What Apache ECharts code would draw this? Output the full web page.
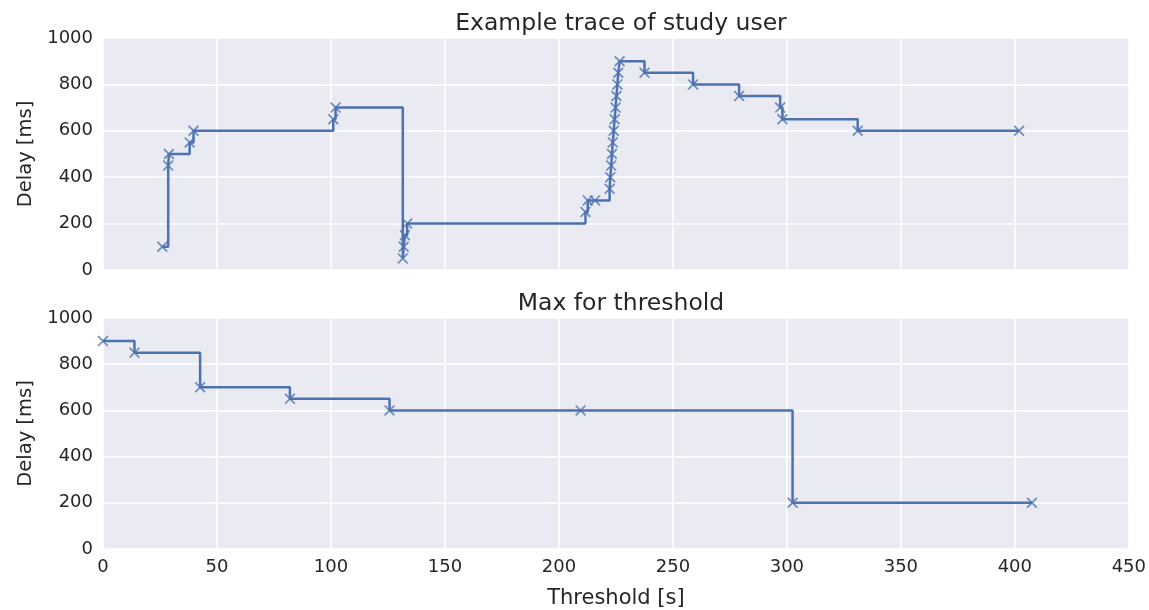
<!DOCTYPE html>
<html>
<head>
<meta charset="utf-8">
<script src="https://cdn.jsdelivr.net/npm/echarts@6/dist/echarts.min.js"></script>
<style>
html,body{margin:0;padding:0;background:#fff;}
#chart{width:1149px;height:610px;}
</style>
</head>
<body>
<div id="chart"></div>
<script>
// Top panel: example trace (threshold s, delay ms)
const traceX = [26, 28.6, 28.9, 38.0, 39.7, 101, 102, 131.5, 131.9, 132.4, 133.4, 211.6, 212.6, 215.8,
  222.2, 222.5, 222.9, 223.2, 223.6, 224.0, 224.4, 224.8, 225.2, 225.6, 226.0, 226.6,
  237.5, 258.8, 279, 297, 298, 331, 401.8];
const traceY = [100, 450, 500, 550, 600, 650, 700, 50, 100, 150, 200, 250, 300, 300,
  350, 400, 450, 500, 550, 600, 650, 700, 750, 800, 850, 900,
  850, 800, 750, 700, 650, 600, 600];
// Bottom panel: max delay for threshold
const maxX = [0, 13.8, 42.6, 82, 125.7, 209.5, 302.5, 407.5];
const maxY = [900, 850, 700, 650, 600, 600, 200, 200];

const xTicks = {min: 0, max: 450, interval: 50};
const yTicks = {min: 0, max: 1000, interval: 200};
const titles = ['Example trace of study user', 'Max for threshold'];
const xName = 'Threshold [s]';
const yName = 'Delay [ms]';

const FONT = 'DejaVu Sans';
const TXT = '#262626';
const LINE = '#4C72B0';
const xSym = 'path://M0,1.1L1.1,0L10,8.9L8.9,10Z M8.9,0L10,1.1L1.1,10L0,8.9Z';

function zip(a, b){ return a.map((v,i)=>[v, b[i]]); }

function xAxis(idx, showLabel){
  return {
    type: 'value', gridIndex: idx, min: xTicks.min, max: xTicks.max, interval: xTicks.interval,
    axisLine: {show: false}, axisTick: {show: false},
    axisLabel: {show: showLabel, color: TXT, fontFamily: FONT, fontSize: 18, margin: 9,
      formatter: v => String(v)},
    splitLine: {show: true, lineStyle: {color: '#ffffff', width: 1.5}},
    name: showLabel ? xName : '', nameLocation: 'middle', nameGap: 39,
    nameTextStyle: {color: TXT, fontFamily: FONT, fontSize: 21}
  };
}
function yAxis(idx){
  return {
    type: 'value', gridIndex: idx, min: yTicks.min, max: yTicks.max, interval: yTicks.interval,
    axisLine: {show: false}, axisTick: {show: false},
    axisLabel: {color: TXT, fontFamily: FONT, fontSize: 18, margin: 10,
      formatter: v => String(v)},
    splitLine: {show: true, lineStyle: {color: '#ffffff', width: 1.5}},
    name: yName, nameLocation: 'middle', nameGap: 67, nameRotate: 90,
    nameTextStyle: {color: TXT, fontFamily: FONT, fontSize: 19.5}
  };
}
function series(idx, data){
  return {
    type: 'line', xAxisIndex: idx, yAxisIndex: idx, data: data, step: 'end',
    symbol: xSym, symbolSize: 11, showAllSymbol: true,
    lineStyle: {color: LINE, width: 2.5},
    itemStyle: {color: LINE, opacity: 0.8},
    z: 3, animation: false
  };
}

const chart = echarts.init(document.getElementById('chart'), null, {renderer: 'canvas'});
chart.setOption({
  animation: false,
  backgroundColor: '#ffffff',
  title: [
    {text: titles[0], left: 616, top: 7, textAlign: 'center',
     textStyle: {color: TXT, fontFamily: FONT, fontSize: 23.5, fontWeight: 'normal'}},
    {text: titles[1], left: 616, top: 287, textAlign: 'center',
     textStyle: {color: TXT, fontFamily: FONT, fontSize: 23.5, fontWeight: 'normal'}}
  ],
  grid: [
    {left: 103, top: 38, width: 1026, height: 232, backgroundColor: '#EAEAF2', show: true, borderWidth: 0},
    {left: 103, top: 318, width: 1026, height: 232, backgroundColor: '#EAEAF2', show: true, borderWidth: 0}
  ],
  xAxis: [xAxis(0, false), xAxis(1, true)],
  yAxis: [yAxis(0), yAxis(1)],
  series: [series(0, zip(traceX, traceY)), series(1, zip(maxX, maxY))]
});
</script>
</body>
</html>
